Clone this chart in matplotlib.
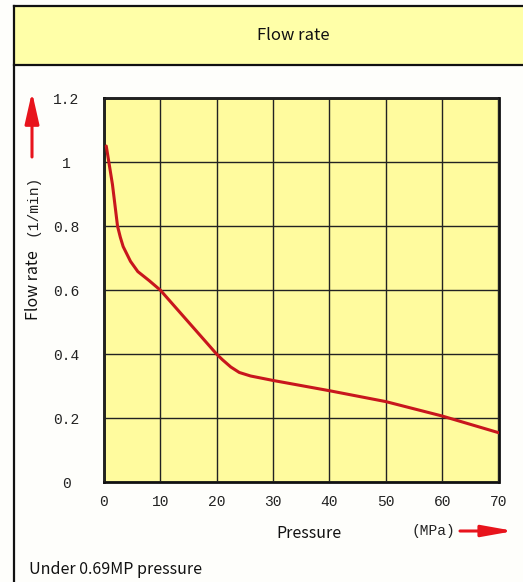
import matplotlib
matplotlib.use("Agg")
import matplotlib.pyplot as plt
from matplotlib.patches import Rectangle, FancyArrowPatch
from matplotlib.lines import Line2D

# ── Data ──────────────────────────────────────────────────────────────────────
pressure = [0.4, 1.5, 2.4, 2.9, 3.4, 4.7, 6, 8, 10, 15, 20, 21, 22.5, 24, 26,
            30, 40, 50, 60, 70]
flow     = [1.05, 0.93, 0.80, 0.765, 0.736, 0.69, 0.658, 0.63, 0.60, 0.50,
            0.40, 0.383, 0.36, 0.343, 0.332, 0.318, 0.286, 0.252, 0.207, 0.155]

x_ticks = [0, 10, 20, 30, 40, 50, 60, 70]
y_ticks = [0, 0.2, 0.4, 0.6, 0.8, 1.0, 1.2]
y_tick_labels = ["0", "0.2", "0.4", "0.6", "0.8", "1", "1.2"]

W, H = 523, 582
fig = plt.figure(figsize=(W / 100, H / 100), dpi=100)
fig.patch.set_facecolor("#fefefb")

def fx(px):
    return px / W

def fy(py):
    return 1 - py / H

MONO = ["Liberation Mono", "DejaVu Sans Mono"]
SANS = ["Noto Sans CJK SC", "DejaVu Sans"]

# ── Header band and frame ────────────────────────────────────────────────────
fig.add_artist(Rectangle((fx(14), fy(65)), fx(W) - fx(14), fy(6) - fy(65),
                         transform=fig.transFigure, facecolor="#ffffa8",
                         edgecolor="none", zorder=0))
for xs, ys in [([14, W], [6, 6]), ([14, W], [65, 65]), ([14, 14], [6, H])]:
    fig.add_artist(Line2D([fx(v) for v in xs], [fy(v) for v in ys],
                          transform=fig.transFigure, color="#111111", lw=1.6))

fig.text(fx(293), fy(35), "Flow rate", ha="center", va="center",
         fontsize=12, family=SANS, color="#111111")

# ── Plot area ────────────────────────────────────────────────────────────────
ax = fig.add_axes([fx(104), fy(482.3), fx(498.5) - fx(104), fy(98) - fy(482.3)])
ax.set_facecolor("#fffb9e")
ax.plot(pressure, flow, color="#c8161d", lw=2.2, solid_capstyle="round",
        solid_joinstyle="round", zorder=3)

ax.set_xlim(0, 70)
ax.set_ylim(0, 1.2)
ax.set_xticks(x_ticks)
ax.set_xticklabels([str(v) for v in x_ticks])
ax.set_yticks(y_ticks)
ax.set_yticklabels(y_tick_labels, ha="center")
ax.tick_params(axis="both", length=0, labelsize=10.5, colors="#222222")
ax.tick_params(axis="x", pad=9)
ax.tick_params(axis="y", pad=27)
for lab in ax.get_xticklabels() + ax.get_yticklabels():
    lab.set_family(MONO)
ax.grid(True, color="#222222", lw=1.0)
ax.set_axisbelow(False)
for sp in ax.spines.values():
    sp.set_linewidth(2.0)
    sp.set_color("#111111")

# ── Axis labels and arrows ───────────────────────────────────────────────────
fig.text(fx(33), fy(285), "Flow rate", rotation=90, ha="center", va="center",
         fontsize=11.5, family=SANS, color="#111111")
fig.text(fx(33), fy(205), "(1/min)", rotation=90, ha="center", va="center",
         fontsize=10.5, family=MONO, color="#222222")
fig.add_artist(FancyArrowPatch((fx(32), fy(157)), (fx(32), fy(92)),
                               transform=fig.transFigure, color="#e8141c",
                               arrowstyle="-|>,head_length=19,head_width=4.3",
                               lw=2.2, mutation_scale=1, shrinkA=0, shrinkB=0))

fig.text(fx(309), fy(533), "Pressure", ha="center", va="center",
         fontsize=11.5, family=SANS, color="#111111")
fig.text(fx(433), fy(531), "(MPa)", ha="center", va="center",
         fontsize=10.5, family=MONO, color="#222222")
fig.add_artist(FancyArrowPatch((fx(460), fy(531)), (fx(514), fy(531)),
                               transform=fig.transFigure, color="#e8141c",
                               arrowstyle="-|>,head_length=19,head_width=3.4",
                               lw=2.2, mutation_scale=1, shrinkA=0, shrinkB=0))

fig.text(fx(29), fy(570), "Under 0.69MP pressure", ha="left", va="center",
         fontsize=11.5, family=SANS, color="#111111")

fig.savefig("out.png", dpi=100)
